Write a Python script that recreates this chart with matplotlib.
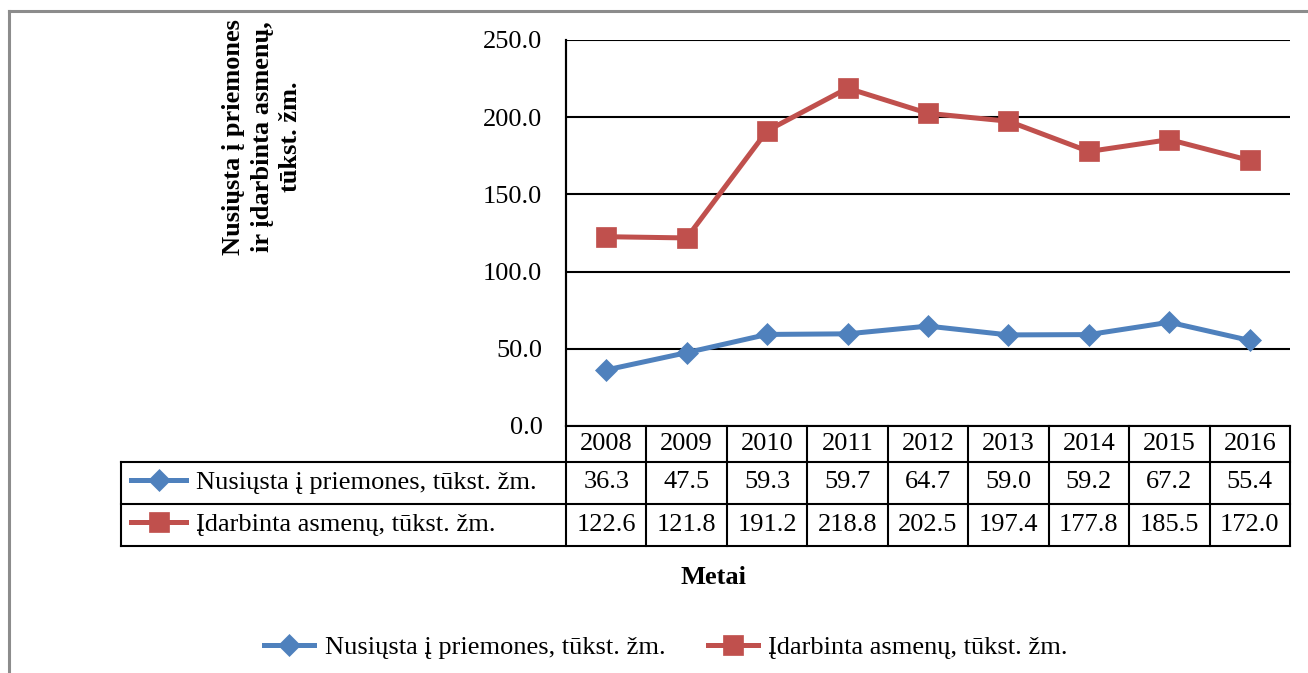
import matplotlib
matplotlib.use("Agg")
import matplotlib.pyplot as plt
from matplotlib.lines import Line2D

years = ["2008", "2009", "2010", "2011", "2012", "2013", "2014", "2015", "2016"]
sent = [36.3, 47.5, 59.3, 59.7, 64.7, 59.0, 59.2, 67.2, 55.4]
employed = [122.6, 121.8, 191.2, 218.8, 202.5, 197.4, 177.8, 185.5, 172.0]
series_names = ["Nusiųsta į priemones, tūkst. žm.", "Įdarbinta asmenų, tūkst. žm."]
yticks = [0, 50, 100, 150, 200, 250]
ylabel = "Nusiųsta į priemones\nir įdarbinta asmenų,\ntūkst. žm."
xlabel = "Metai"

W, H = 1308, 673
plt.rcParams['font.family'] = ['Liberation Serif', 'DejaVu Serif']
FS = 19

fig = plt.figure(figsize=(W / 100, H / 100), dpi=100)

def fx(x):
    return x / W

def fy(y):
    return 1 - y / H

L, R, T, B = 566, 1290, 40, 426
ax = fig.add_axes([fx(L), fy(B), (R - L) / W, (B - T) / H])

blue = "#4F81BD"
red = "#C0504D"
x = list(range(len(years)))
l1, = ax.plot(x, sent, color=blue, lw=3.6, marker="D", ms=10.8,
              mec=blue, mew=0.5, solid_joinstyle="round", zorder=3)
l2, = ax.plot(x, employed, color=red, lw=3.6, marker="s", ms=14.2,
              mec=red, mew=0.5, solid_joinstyle="round", zorder=3)

ax.set_xlim(-0.5, len(years) - 0.5)
ax.set_ylim(0, 250)
ax.set_yticks(yticks)
ax.set_yticklabels([f"{v:.1f}" for v in yticks], fontsize=FS)
ax.set_xticks([])
ax.tick_params(axis="y", length=0, pad=17)
ax.grid(axis="y", color="black", lw=1.5)
ax.set_axisbelow(True)
for s in ["top", "right", "bottom"]:
    ax.spines[s].set_visible(False)
ax.spines["left"].set_linewidth(1.5)

# data table
lw_t = 1.5
col_w = (R - L) / len(years)
rows_y = [B, 462, 504, 546]
def hline(x0, x1, y):
    fig.add_artist(Line2D([fx(x0), fx(x1)], [fy(y), fy(y)], color="black", lw=lw_t))
def vline(xp, y0, y1):
    fig.add_artist(Line2D([fx(xp), fx(xp)], [fy(y0), fy(y1)], color="black", lw=lw_t))

hline(L, R, B)
for yy in rows_y[1:]:
    hline(121, R, yy)
for k in range(len(years) + 1):
    vline(L + k * col_w, B, rows_y[-1])
vline(121, rows_y[1], rows_y[-1])
vline(L, T, B)

for k, yr in enumerate(years):
    cx = L + (k + 0.5) * col_w
    fig.text(fx(cx), fy(450), yr, ha="center", va="baseline", fontsize=FS)
    fig.text(fx(cx), fy(488), f"{sent[k]:.1f}", ha="center", va="baseline", fontsize=FS)
    fig.text(fx(cx), fy(531), f"{employed[k]:.1f}", ha="center", va="baseline", fontsize=FS)

for line, name, yc in [(l1, series_names[0], 482), (l2, series_names[1], 524)]:
    fig.legend(handles=[line], labels=[name], loc="center left",
               bbox_to_anchor=(fx(131), fy(yc)), frameon=False, fontsize=FS,
               handlelength=2.1, handletextpad=0.35, borderpad=0, borderaxespad=0)

# axis labels
fig.text(fx(262), fy(137), ylabel, rotation=90, ha="center", va="center",
         multialignment="center", fontsize=FS, fontweight="bold", linespacing=1.3)
fig.text(fx(714), fy(577), xlabel, ha="center", va="center", fontsize=FS, fontweight="bold")

# bottom legend
fig.legend(handles=[l1, l2], labels=series_names, loc="center",
           bbox_to_anchor=(fx(666), fy(647)), ncol=2, frameon=False, fontsize=FS,
           handlelength=1.9, handletextpad=0.4, columnspacing=1.6, borderpad=0)

# outer chart border (top and left visible)
fig.add_artist(Line2D([fx(9), 1], [fy(10.5), fy(10.5)], color="#8c8c8c", lw=2.2))
fig.add_artist(Line2D([fx(9), fx(9)], [fy(10.5), 0], color="#8c8c8c", lw=2.2))

fig.savefig("out.png", dpi=100)
